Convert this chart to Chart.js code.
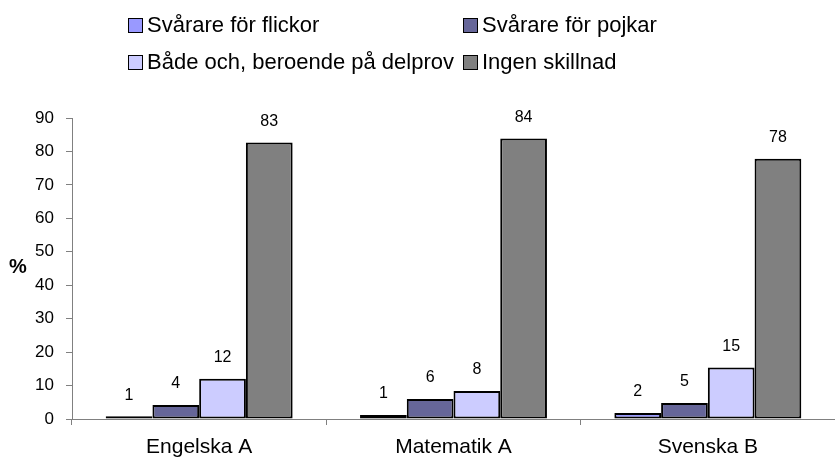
<!DOCTYPE html>
<html>
<head>
<meta charset="utf-8">
<script src="https://cdn.jsdelivr.net/npm/chart.js@4/dist/chart.umd.min.js"></script>
<style>
  html, body { margin: 0; padding: 0; background: #fff; }
  #wrap { position: relative; width: 835px; height: 460px; font-family: "Liberation Sans", Arial, sans-serif; }
  canvas { position: absolute; left: 0; top: 0; }
  .lg { position: absolute; display: flex; align-items: center; font-size: 22px; color: #000; white-space: nowrap; height: 16px; }
  .lg .box { width: 13px; height: 13px; border: 1.5px solid #000; margin-right: 4px; flex: none; }
  #pct { position: absolute; left: 9px; top: 255px; font-size: 20px; font-weight: bold; }
</style>
</head>
<body>
<div id="wrap">
  <canvas id="c" width="835" height="460"></canvas>
  <div id="pct">%</div>
</div>
<script>
// ---- data ----
const categories = ["Engelska A", "Matematik A", "Svenska B"];
const seriesNames = ["Svårare för flickor", "Svårare för pojkar", "Både och, beroende på delprov", "Ingen skillnad"];
const flickor = [0.8, 1.2, 1.8];
const pojkar = [4.2, 6.0, 4.8];
const bada = [12.0, 8.4, 15.4];
const ingen = [82.7, 83.9, 77.8];
const yTicks = [0, 10, 20, 30, 40, 50, 60, 70, 80, 90];

const colors = ["#9999FF", "#666699", "#CCCCFF", "#808080"];
const seriesValues = [flickor, pojkar, bada, ingen];

// legend (HTML, 2 columns)
const legendPos = [[128, 17], [463, 17], [128, 54], [463, 54]];
const wrap = document.getElementById('wrap');
seriesNames.forEach((n, i) => {
  const d = document.createElement('div');
  d.className = 'lg';
  d.style.left = legendPos[i][0] + 'px';
  d.style.top = legendPos[i][1] + 'px';
  const b = document.createElement('span');
  b.className = 'box';
  b.style.background = colors[i];
  const t = document.createElement('span');
  t.textContent = n;
  d.appendChild(b); d.appendChild(t);
  wrap.appendChild(d);
});

const valueLabels = {
  id: 'valueLabels',
  afterDatasetsDraw(chart) {
    const ctx = chart.ctx;
    ctx.save();
    ctx.font = '16px "Liberation Sans", Arial, sans-serif';
    ctx.fillStyle = '#000';
    ctx.textAlign = 'center';
    ctx.textBaseline = 'middle';
    chart.data.datasets.forEach((ds, di) => {
      const meta = chart.getDatasetMeta(di);
      meta.data.forEach((el, i) => {
        ctx.fillText(String(Math.round(ds.data[i])), el.x, el.y - 21);
      });
    });
    ctx.restore();
  }
};

new Chart(document.getElementById('c'), {
  type: 'bar',
  data: {
    labels: categories,
    datasets: seriesNames.map((n, i) => ({
      label: n,
      data: seriesValues[i],
      backgroundColor: colors[i],
      borderColor: '#000',
      borderWidth: 2,
      borderSkipped: false,
      barPercentage: 1,
      categoryPercentage: 0.735
    }))
  },
  options: {
    responsive: false,
    animation: false,
    devicePixelRatio: 1,
    layout: { padding: { top: 118, left: 0, right: 0, bottom: 0 } },
    plugins: { legend: { display: false }, tooltip: { enabled: false } },
    scales: {
      x: {
        afterFit(scale) { scale.height = 41; },
        grid: { drawOnChartArea: false, drawTicks: true, tickLength: 6, color: '#808080', offset: true },
        border: { color: '#808080', width: 1 },
        ticks: { color: '#000', font: { family: '"Liberation Sans", Arial, sans-serif', size: 21 }, padding: 10, maxRotation: 0 }
      },
      y: {
        min: 0, max: 90,
        afterBuildTicks(scale) { scale.ticks = yTicks.map(v => ({ value: v })); },
        afterFit(scale) { scale.width = 72; },
        grid: { drawOnChartArea: false, drawTicks: true, tickLength: 6, color: '#808080' },
        border: { color: '#808080', width: 1 },
        ticks: { color: '#000', font: { family: '"Liberation Sans", Arial, sans-serif', size: 17 }, padding: 12 }
      }
    }
  },
  plugins: [valueLabels]
});
</script>
</body>
</html>
